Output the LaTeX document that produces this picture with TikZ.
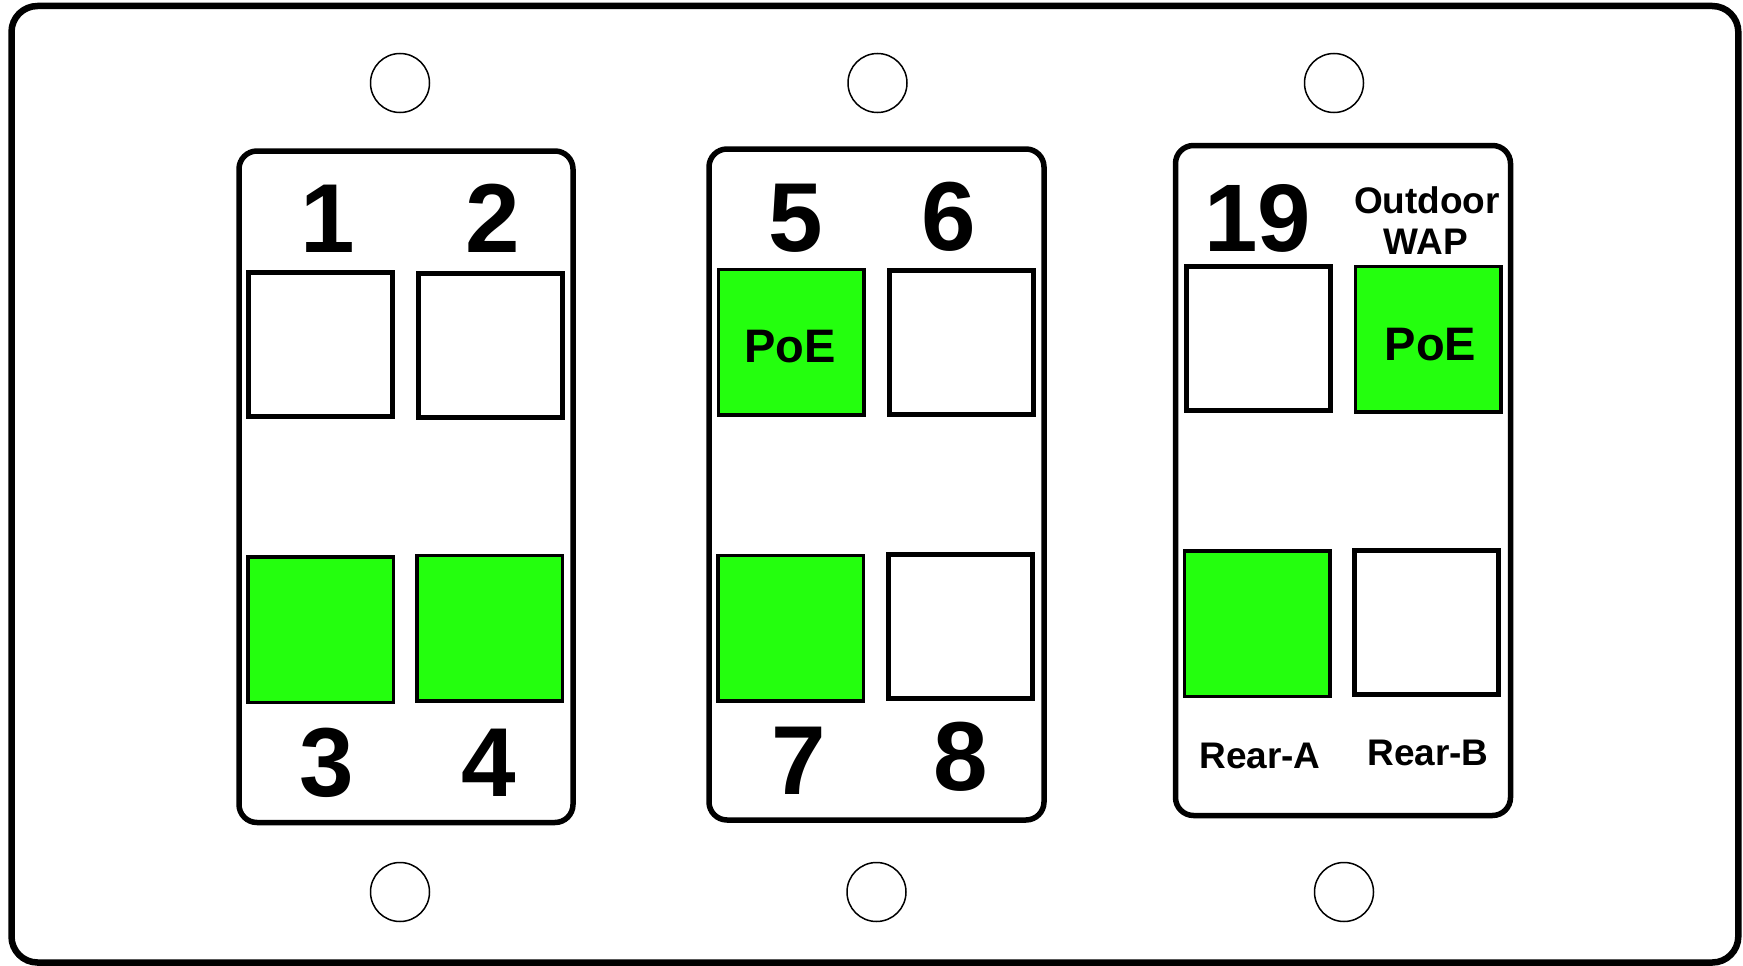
\documentclass[tikz,border=0pt]{standalone}
\usepackage{fontspec}
\setmainfont{Liberation Sans}
\definecolor{portgreen}{RGB}{36,255,14}
\tikzset{
  plate/.style={draw=black,line width=6.5pt,rounded corners=26pt,fill=white},
  panel/.style={draw=black,line width=5.5pt,rounded corners=18pt,fill=white},
  hole/.style={draw=black,line width=1.5pt,circle,minimum size=59pt,inner sep=0pt,fill=white},
  portw/.style={draw=black,line width=5pt,fill=white,minimum width=144pt,minimum height=144pt,inner sep=0pt},
  portg/.style={draw=black,line width=3.5pt,fill=portgreen,minimum width=145.5pt,minimum height=145.5pt,inner sep=0pt},
  num/.style={font=\fontsize{98}{98}\selectfont\bfseries,inner sep=0pt,anchor=base},
  small/.style={font=\fontsize{37}{41}\selectfont\bfseries,inner sep=0pt,anchor=base},
  poe/.style={font=\fontsize{47}{47}\selectfont\bfseries,inner sep=0pt,anchor=base}
}
\begin{document}
\begin{tikzpicture}[x=1pt,y=-1pt]
\useasboundingbox (0,0) rectangle (1743,966);
\fill[white] (0,0) rectangle (1743,966);
\draw[plate] (11.5,6) rectangle (1738.3,962.5);
% holes
\node[hole] (h1) at (400,83) {};
\node[hole] (h2) at (877.5,83) {};
\node[hole] (h3) at (1334,83) {};
\node[hole] (h4) at (400,892) {};
\node[hole] (h5) at (876.5,892) {};
\node[hole] (h6) at (1344,892) {};
% panels
\draw[panel] (239,151) rectangle (573,822.5);
\draw[panel] (709,149) rectangle (1044,820);
\draw[panel] (1175.5,145.5) rectangle (1510.5,815.5);
% panel 1
\node[portw] (p1) at (320.8,344) {};
\node[portw] (p2) at (490.8,345) {};
\node[portg] (p3) at (320.5,629.5) {};
\node[portg] (p4) at (489.7,628.3) {};
\node[num] (n1) at (327.5,252) {1};
\node[num] (n2) at (492.5,252) {2};
\node[num] (n3) at (327,796) {3};
\node[num] (n4) at (489,796) {4};
% panel 2
\node[portg] (p5) at (791.2,342.2) {};
\node[portw] (p6) at (961.2,342.8) {};
\node[portg] (p7) at (790.5,628) {};
\node[portw] (p8) at (960,626.7) {};
\node[poe] (poe5) at (790,362) {PoE};
\node[num] (n5) at (796,251) {5};
\node[num] (n6) at (949,250) {6};
\node[num] (n7) at (799,794) {7};
\node[num] (n8) at (961,790) {8};
% panel 3
\node[portw] (p19) at (1258,338.5) {};
\node[portg] (pwap) at (1428.3,339.2) {};
\node[portg] (pra) at (1257.2,623.5) {};
\node[portw] (prb) at (1426.5,622.5) {};
\node[num,font=\fontsize{96}{96}\selectfont\bfseries] (n19) at (1257.5,251.5) {19};
\node[small] (out1) at (1427,213) {Outdoor};
\node[small] (out2) at (1426,254) {WAP};
\node[poe] (poewap) at (1430.5,360) {PoE};
\node[small] (ra) at (1260,768) {Rear-A};
\node[small] (rb) at (1428,765) {Rear-B};
\end{tikzpicture}
\end{document}
